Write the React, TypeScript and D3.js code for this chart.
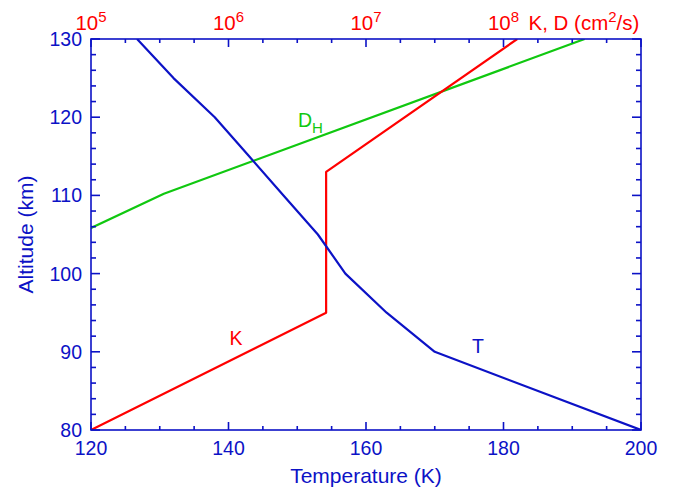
import React from "react";
import * as d3 from "d3";

// Temperature profile T (K) vs altitude (km)
const tAlt = [80, 90, 95, 100, 105, 110, 115, 120, 125, 130];
const tVal = [200, 170, 163, 157, 153, 148, 143, 138, 132, 126.7];

// Eddy diffusion K (cm2/s), log10 values
const kAlt = [80, 95, 113, 130];
const kLog = [5.0, 6.71, 6.71, 8.1];

// Molecular diffusion D_H (cm2/s), log10 values
const dAlt = [105, 110.2, 130];
const dLog = [4.9, 5.53, 8.59];

const tempTicks = [120, 140, 160, 180, 200];
const altTicks = [80, 90, 100, 110, 120, 130];
const logTicks = [5, 6, 7, 8];

const BLUE = "#0c12c6";
const RED = "#ff0000";
const GREEN = "#10c810";
const FONT = "Liberation Sans, Arial, sans-serif";

export default function App() {
  const left = 91, right = 641, top = 39, bottom = 430;

  const x = d3.scaleLinear().domain([120, 200]).range([left, right]);
  const y = d3.scaleLinear().domain([80, 130]).range([bottom, top]);
  const xl = d3.scaleLog().domain([1e5, 1e9]).range([left, right]);

  const tLine = d3.line<number>().x((d, i) => x(tVal[i])).y((d) => y(d));
  const kLine = d3.line<number>().x((d, i) => xl(Math.pow(10, kLog[i]))).y((d) => y(d));
  const dLine = d3.line<number>().x((d, i) => xl(Math.pow(10, dLog[i]))).y((d) => y(d));

  const xMinor = d3.range(120, 200.1, 5);
  const yMinor = d3.range(80, 130.1, 2);
  const logMinor = d3.range(5, 9.01, 0.25);

  return (
    <svg width={676} height={487} style={{ position: "absolute", left: 0, top: 0 }}>
      <defs>
        <clipPath id="plot">
          <rect x={left} y={top} width={right - left} height={bottom - top} />
        </clipPath>
      </defs>

      <g clipPath="url(#plot)" fill="none" strokeWidth={2.2} strokeLinejoin="round">
        <path d={dLine(dAlt) || ""} stroke={GREEN} />
        <path d={kLine(kAlt) || ""} stroke={RED} />
        <path d={tLine(tAlt) || ""} stroke={BLUE} />
      </g>

      {/* frame */}
      <rect x={left} y={top} width={right - left} height={bottom - top} fill="none" stroke={BLUE} strokeWidth={1.6} />

      {/* bottom ticks */}
      {xMinor.map((v) => {
        const major = v % 20 === 0;
        return <line key={"b" + v} x1={x(v)} x2={x(v)} y1={bottom} y2={bottom - (major ? 8 : 4)} stroke={BLUE} strokeWidth={1.6} />;
      })}
      {/* top ticks (log axis) */}
      {logMinor.map((v) => {
        const major = Math.abs(v - Math.round(v)) < 1e-6;
        const px = xl(Math.pow(10, v));
        return <line key={"t" + v} x1={px} x2={px} y1={top} y2={top + (major ? 8 : 4)} stroke={BLUE} strokeWidth={1.6} />;
      })}
      {/* left & right ticks */}
      {yMinor.map((v) => {
        const major = v % 10 === 0;
        const len = major ? 9 : 5;
        return (
          <g key={"y" + v}>
            <line x1={left} x2={left + len} y1={y(v)} y2={y(v)} stroke={BLUE} strokeWidth={1.6} />
            <line x1={right} x2={right - len} y1={y(v)} y2={y(v)} stroke={BLUE} strokeWidth={1.6} />
          </g>
        );
      })}

      <g fontFamily={FONT} fontSize={19.5}>
        {tempTicks.map((v) => (
          <text key={"bl" + v} x={x(v)} y={bottom + 25} textAnchor="middle" fill={BLUE}>{v}</text>
        ))}
        {altTicks.map((v) => (
          <text key={"ll" + v} x={left - 9} y={y(v) + 7} textAnchor="end" fill={BLUE}>{v}</text>
        ))}
        {logTicks.map((v) => (
          <text key={"tl" + v} x={xl(Math.pow(10, v))} y={top - 9} textAnchor="middle" fill={RED} fontSize={20.5}>
            10<tspan dy={-8} fontSize={15}>{v}</tspan>
          </text>
        ))}
        <text x={xl(1e8) + 25} y={top - 9} fill={RED} fontSize={20.5}>
          K, D (cm<tspan dy={-8} fontSize={15}>2</tspan><tspan dy={8}>/s)</tspan>
        </text>

        <text x={(left + right) / 2} y={483} textAnchor="middle" fill={BLUE} fontSize={21}>Temperature (K)</text>
        <text transform={`translate(33,${(top + bottom) / 2}) rotate(-90)`} textAnchor="middle" fill={BLUE} fontSize={21}>Altitude (km)</text>

        <text x={298} y={127} fill={GREEN}>D<tspan dy={6} fontSize={15}>H</tspan></text>
        <text x={236} y={345} textAnchor="middle" fill={RED}>K</text>
        <text x={478} y={353} textAnchor="middle" fill={BLUE}>T</text>
      </g>
    </svg>
  );
}
